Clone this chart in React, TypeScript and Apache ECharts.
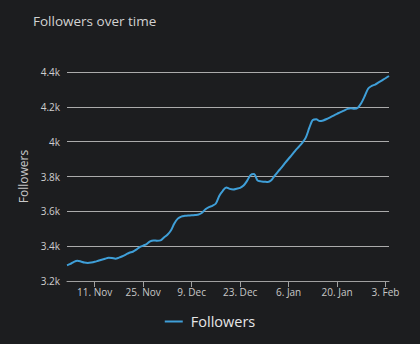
import React, { useEffect, useRef } from "react";
import * as echarts from "echarts";

const START_DATE = "2019-11-03";
const followers: number[] = [
  3290, 3298, 3310, 3316, 3312, 3306, 3304, 3306, 3310, 3316,
  3322, 3328, 3334, 3332, 3328, 3334, 3342, 3352, 3362, 3368,
  3380, 3395, 3403, 3412, 3428, 3433, 3431, 3433, 3450, 3466,
  3490, 3530, 3558, 3570, 3574, 3576, 3577, 3579, 3582, 3592,
  3612, 3624, 3632, 3645, 3690, 3718, 3737, 3729, 3726, 3730,
  3735, 3748, 3775, 3808, 3814, 3778, 3772, 3770, 3768, 3778,
  3805, 3830, 3852, 3878, 3902, 3925, 3950, 3972, 3995, 4025,
  4080, 4125, 4128, 4118, 4122, 4130, 4140, 4150, 4160, 4170,
  4178, 4188, 4192, 4189, 4195, 4222, 4262, 4305, 4320, 4328,
  4340, 4352, 4364, 4377,
];
const tickDates: string[] = [
  "2019-11-11", "2019-11-25", "2019-12-09", "2019-12-23",
  "2020-01-06", "2020-01-20", "2020-02-03",
];
const tickLabels: string[] = ["11. Nov", "25. Nov", "9. Dec", "23. Dec", "6. Jan", "20. Jan", "3. Feb"];
const yTicks: number[] = [3200, 3400, 3600, 3800, 4000, 4200, 4400];

const DAY = 86400000;
const startTs = Date.parse(START_DATE + "T00:00:00Z");
const dates: string[] = followers.map((_, i) =>
  new Date(startTs + i * DAY).toISOString().slice(0, 10)
);

export default function App() {
  const ref = useRef<HTMLDivElement>(null);
  useEffect(() => {
    if (!ref.current) return;
    const chart = echarts.init(ref.current, null, { renderer: "svg" });
    const font = "'Open Sans', 'Noto Sans', sans-serif";
    const isTick = (_i: number, v: string) => tickDates.indexOf(v) >= 0;
    chart.setOption({
      animation: false,
      backgroundColor: "#1c1d1f",
      textStyle: { fontFamily: font },
      title: {
        text: "Followers over time",
        left: 28,
        top: 9,
        textStyle: { color: "#d2d2d2", fontSize: 13.5, fontWeight: "normal", fontFamily: font },
      },
      grid: { left: 67, right: 31, top: 72, bottom: 63 },
      legend: {
        data: ["Followers"],
        left: "center",
        top: 309,
        icon: "rect",
        itemWidth: 18,
        itemHeight: 2,
        textStyle: { color: "#e6e6e6", fontSize: 14.5, fontFamily: font, padding: [0, 0, 0, 3] },
      },
      xAxis: {
        type: "category",
        data: dates,
        boundaryGap: false,
        axisLine: { show: true, lineStyle: { color: "#a0a0a0", width: 1 } },
        axisTick: { show: true, length: 6, interval: isTick, lineStyle: { color: "#a0a0a0" } },
        axisLabel: {
          interval: isTick,
          color: "#c8c8c8",
          fontSize: 10,
          margin: 6,
          formatter: (v: string) => {
            const i = tickDates.indexOf(v);
            return i >= 0 ? tickLabels[i] : "";
          },
        },
        splitLine: { show: false },
      },
      yAxis: {
        type: "value",
        min: yTicks[0],
        max: yTicks[yTicks.length - 1],
        interval: 200,
        name: "Followers",
        nameLocation: "middle",
        nameGap: 36,
        nameTextStyle: { color: "#c8c8c8", fontSize: 12, fontFamily: font },
        axisLine: { show: false },
        axisTick: { show: false },
        axisLabel: {
          color: "#cfcfcf",
          fontSize: 10,
          margin: 7,
          formatter: (v: number) => `${v / 1000}k`,
        },
        splitLine: { show: true, lineStyle: { color: "#ababab", width: 1 } },
      },
      series: [
        {
          name: "Followers",
          type: "line",
          data: followers,
          showSymbol: false,
          smooth: 0.3,
          color: "#3f9fd8",
          lineStyle: { color: "#3f9fd8", width: 2 },
        },
      ],
    });
    return () => chart.dispose();
  }, []);
  return (
    <div
      ref={ref}
      style={{ position: "fixed", left: 0, top: 0, width: 420, height: 344 }}
    />
  );
}
